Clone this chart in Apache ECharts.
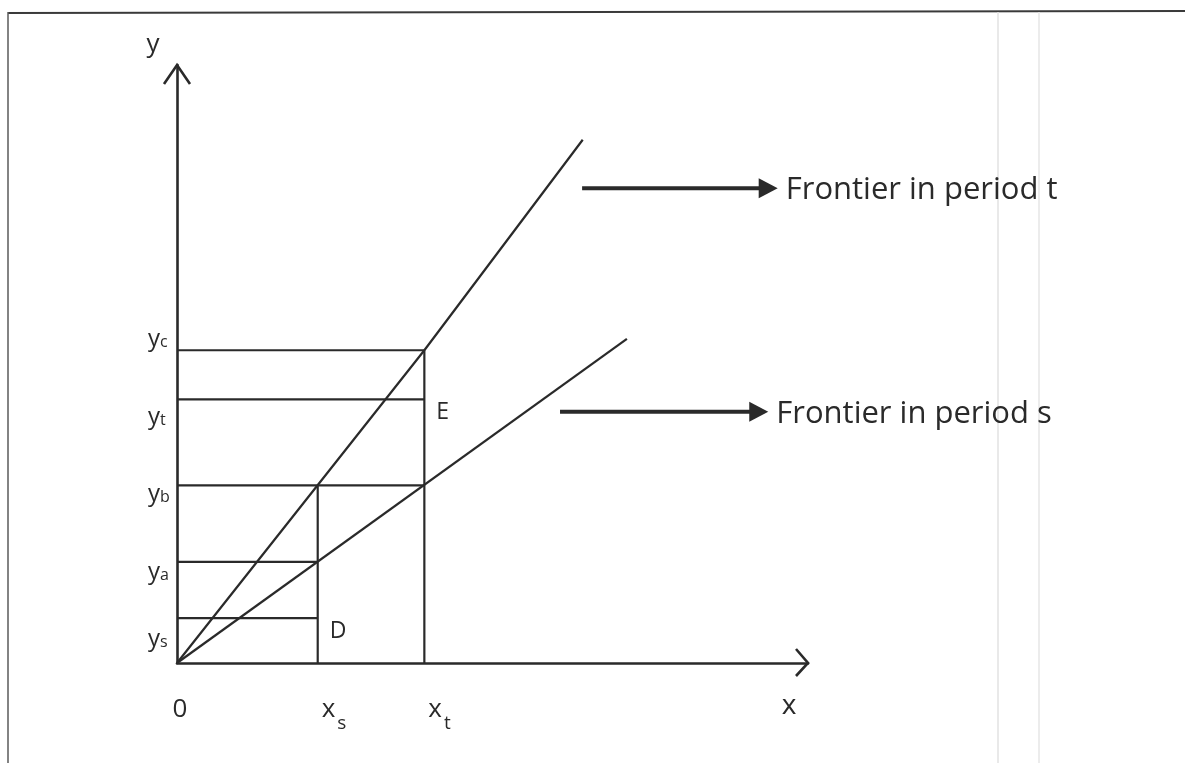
<!DOCTYPE html>
<html>
<head>
<meta charset="utf-8">
<title>Production frontiers in periods s and t</title>
<script src="https://cdn.jsdelivr.net/npm/echarts@6/dist/echarts.min.js"></script>
<style>
  html, body { margin: 0; padding: 0; background: #ffffff; }
  #chart { width: 1185px; height: 763px; }
</style>
</head>
<body>
<div id="chart"></div>
<script>
// Input (x) and output (y) in arbitrary units; both axes run 0..100.
const xMax = 100;
const yMax = 100;

// Frontier in period t (steeper) and in period s, as points through the origin.
const frontierT = [[0, 0], [39.2, 52.3], [64.3, 87.5]];
const frontierS = [[0, 0], [71.3, 54.2]];

// Input levels x_s, x_t
const inputNames = ['s', 't'];
const inputLevels = [22.3, 39.2];
// Each vertical guide rises to this output level
const inputRiseTo = ['b', 'c'];

// Output levels y_s, y_a, y_b, y_t, y_c
const outputNames = ['s', 'a', 'b', 't', 'c'];
const outputLevels = [7.5, 16.9, 29.7, 44.1, 52.3];
// Each horizontal guide reaches across to this input level
const outputReachTo = ['s', 's', 't', 't', 't'];

// Point labels
const pointLabels = [
  { text: 'D', at: ['s', 's'] },   // (x_s, y_s)
  { text: 'E', at: ['t', 't'] }    // (x_t, y_t)
];

// Frontier captions
const captions = ['Frontier in period t', 'Frontier in period s'];

// ---------------------------------------------------------------------------
const INK = '#2a2a2a';
const FONT = '"Open Sans", "Noto Sans", sans-serif';

const xOf = n => inputLevels[inputNames.indexOf(n)];
const yOf = n => outputLevels[outputNames.indexOf(n)];

function lineSeries(data, width) {
  return {
    type: 'line',
    data: data,
    symbol: 'none',
    silent: true,
    animation: false,
    lineStyle: { color: INK, width: width || 2.2 },
    z: 3
  };
}

const series = [
  lineSeries(frontierT, 2.2),
  lineSeries(frontierS, 2.2)
];
outputLevels.forEach((v, i) => {
  series.push(lineSeries([[0, v], [xOf(outputReachTo[i]), v]], 2.2));
});
inputLevels.forEach((v, i) => {
  series.push(lineSeries([[v, 0], [v, yOf(inputRiseTo[i])]], 2.2));
});

const chart = echarts.init(document.getElementById('chart'), null, { renderer: 'canvas' });

chart.setOption({
  animation: false,
  backgroundColor: '#ffffff',
  grid: { left: 177, top: 65, width: 631, height: 598, containLabel: false },
  xAxis: {
    type: 'value', min: 0, max: xMax,
    axisLine: { show: true, onZero: false, lineStyle: { color: INK, width: 2.6 } },
    axisTick: { show: false }, axisLabel: { show: false }, splitLine: { show: false }
  },
  yAxis: {
    type: 'value', min: 0, max: yMax,
    axisLine: { show: true, onZero: false, lineStyle: { color: INK, width: 2.6 } },
    axisTick: { show: false }, axisLabel: { show: false }, splitLine: { show: false }
  },
  series: series
});

// ---------------------------------------------------------------------------
// Annotations placed through the grid's coordinate system
const px = p => chart.convertToPixel({ gridIndex: 0 }, p);
const measure = document.createElement('canvas').getContext('2d');
function textWidth(s, size) {
  measure.font = size + 'px ' + FONT;
  return measure.measureText(s).width;
}
function text(x, y, s, size, align) {
  return {
    type: 'text', x: x, y: y, silent: true, z: 10,
    style: {
      text: s, fill: INK, font: size + 'px ' + FONT,
      align: align || 'left', verticalAlign: 'middle'
    }
  };
}
// main letter followed by a smaller subscript letter
function subLabel(x, y, main, sub, size, subSize, gap, subDy) {
  const w = textWidth(main, size);
  return [text(x, y, main, size), text(x + w + gap, y + subDy, sub, subSize)];
}

const g = [];

// page frame
g.push({ type: 'line', shape: { x1: 8, y1: 13, x2: 1185, y2: 11 }, style: { stroke: '#3a3a3a', lineWidth: 2 }, silent: true });
g.push({ type: 'line', shape: { x1: 8, y1: 12, x2: 8, y2: 763 }, style: { stroke: '#5a5a5a', lineWidth: 1.5 }, silent: true });
g.push({ type: 'line', shape: { x1: 998, y1: 12, x2: 998, y2: 763 }, style: { stroke: '#e2e2e2', lineWidth: 1.5 }, silent: true });
g.push({ type: 'line', shape: { x1: 1039, y1: 12, x2: 1039, y2: 763 }, style: { stroke: '#e6e6e6', lineWidth: 1.5 }, silent: true });

// open arrowheads at the axis ends
const yTip = px([0, yMax]);
const xTip = px([xMax, 0]);
g.push({ type: 'polyline', silent: true, z: 5,
  shape: { points: [[yTip[0] - 13, yTip[1] + 19], [yTip[0], yTip[1]], [yTip[0] + 13, yTip[1] + 19]] },
  style: { stroke: INK, lineWidth: 2.6, fill: null } });
g.push({ type: 'polyline', silent: true, z: 5,
  shape: { points: [[xTip[0] - 12, xTip[1] - 14], [xTip[0], xTip[1]], [xTip[0] - 12, xTip[1] + 13]] },
  style: { stroke: INK, lineWidth: 2.6, fill: null } });

// axis names and origin
g.push(text(yTip[0] - 24, yTip[1] - 20, 'y', 26, 'center'));
g.push(text(xTip[0] - 19, xTip[1] + 43, 'x', 28, 'center'));
const origin = px([0, 0]);
g.push(text(origin[0] + 3, origin[1] + 47, '0', 26, 'center'));

// output level labels
const yNudge = { s: 21, a: 10, b: 9, t: 18, c: -11 };
outputLevels.forEach((v, i) => {
  const p = px([0, v]);
  g.push(...subLabel(p[0] - 29, p[1] + yNudge[outputNames[i]], 'y', outputNames[i], 24, 16, 0, 3));
});

// input level labels
inputLevels.forEach((v, i) => {
  const p = px([v, 0]);
  g.push(...subLabel(p[0] + 4, p[1] + 47, 'x', inputNames[i], 26, 19, 2, 14));
});

// point labels D and E
pointLabels.forEach(l => {
  const p = px([xOf(l.at[0]), yOf(l.at[1])]);
  g.push(text(p[0] + 12, p[1] + 13, l.text, 23));
});

// caption arrows pointing to the frontier names
const captionArrows = [
  { from: [64.2, 79.4], to: [95.2, 79.4] },
  { from: [60.7, 42.0], to: [93.7, 42.0] }
];
captionArrows.forEach((a, i) => {
  const p0 = px(a.from), p1 = px(a.to);
  g.push({ type: 'line', silent: true, z: 5,
    shape: { x1: p0[0], y1: p0[1], x2: p1[0] - 16, y2: p1[1] },
    style: { stroke: INK, lineWidth: 4 } });
  g.push({ type: 'polygon', silent: true, z: 5,
    shape: { points: [[p1[0] - 19, p1[1] - 10], [p1[0], p1[1]], [p1[0] - 19, p1[1] + 10]] },
    style: { fill: INK } });
  g.push(text(p1[0] + 8, p1[1] + 2, captions[i], 31));
});

chart.setOption({ graphic: { elements: g } });
</script>
</body>
</html>
